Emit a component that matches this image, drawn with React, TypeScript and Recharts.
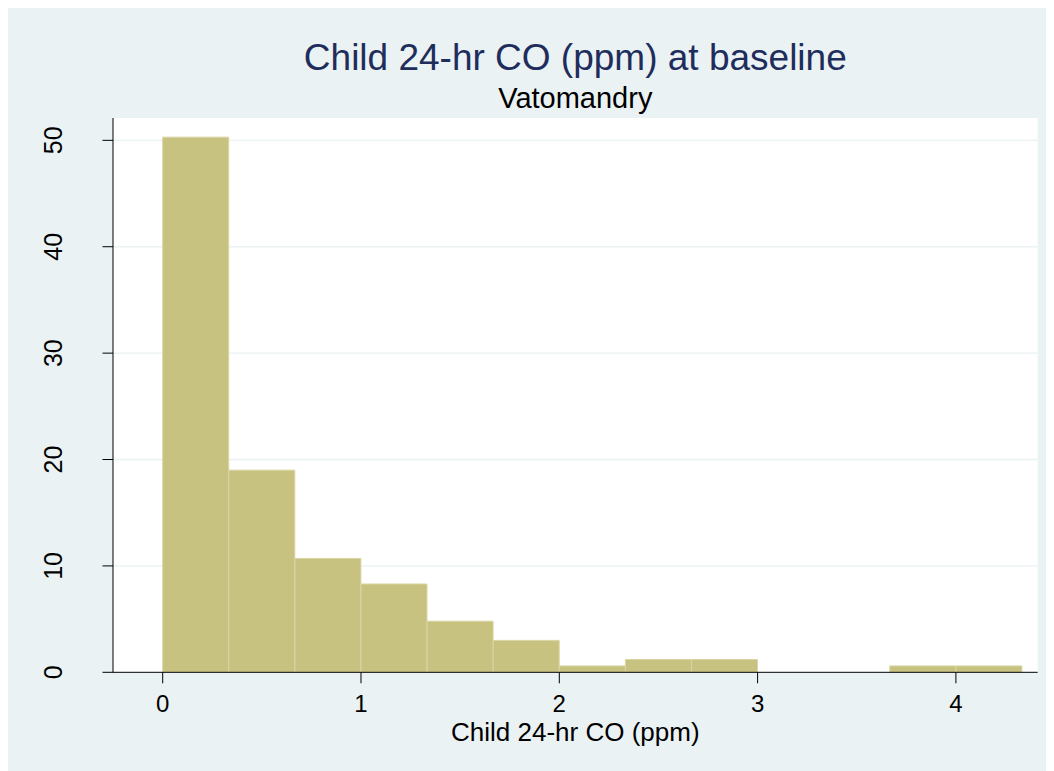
import React from 'react';
import { BarChart, Bar, XAxis, YAxis, CartesianGrid } from 'recharts';

// Histogram of child 24-hr CO exposure (percent of children per bin)
const binStarts = [0, 1 / 3, 2 / 3, 1, 4 / 3, 5 / 3, 2, 7 / 3, 8 / 3, 3, 10 / 3, 11 / 3, 4];
const binWidth = 1 / 3;
const percents = [50.3, 19.0, 10.7, 8.3, 4.8, 3.0, 0.6, 1.2, 1.2, 0, 0, 0.6, 0.6];
const xTicks = [0, 1, 2, 3, 4];
const yTicks = [0, 10, 20, 30, 40, 50];
const gridValues = [10, 20, 30, 40, 50];

const data = binStarts.map((start, i) => ({
  mid: start + binWidth / 2,
  pct: percents[i],
}));

const FONT = '"Liberation Sans", Arial, Helvetica, sans-serif';
const W = 1046;
const H = 763;

const XTick = (props: any) => {
  const { x, y, payload } = props;
  return (
    <text x={x} y={y + 27} textAnchor="middle" fontSize={24} fontFamily={FONT} fill="#000">
      {payload.value}
    </text>
  );
};

const YTick = (props: any) => {
  const { x, y, payload } = props;
  const bx = x - 38.5;
  return (
    <text
      x={bx}
      y={y}
      transform={`rotate(-90 ${bx} ${y})`}
      textAnchor="middle"
      fontSize={25}
      fontFamily={FONT}
      fill="#000"
    >
      {payload.value}
    </text>
  );
};

export default function App() {
  return (
    <div style={{ position: 'relative', width: W, height: H, background: '#EAF2F3' }}>
      <BarChart
        width={W}
        height={H}
        data={data}
        margin={{ top: 110, right: 16.3, bottom: 28.7, left: 45 }}
        barCategoryGap={0}
        barGap={0}
      >
        <CartesianGrid
          vertical={false}
          fill="#FFFFFF"
          stroke="#EAF2F3"
          strokeWidth={1.3}
          horizontalValues={gridValues}
        />
        <XAxis
          type="number"
          dataKey="mid"
          domain={[-0.2506, 4.4125]}
          allowDataOverflow
          ticks={xTicks}
          interval={0}
          height={70}
          tickSize={11}
          tick={<XTick />}
          tickLine={{ stroke: '#000', strokeWidth: 1 }}
          axisLine={{ stroke: '#000', strokeWidth: 1 }}
        />
        <YAxis
          type="number"
          domain={[0, 52.1]}
          allowDataOverflow
          ticks={yTicks}
          interval={0}
          width={60}
          tickSize={10.5}
          tick={<YTick />}
          tickLine={{ stroke: '#000', strokeWidth: 1 }}
          axisLine={{ stroke: '#000', strokeWidth: 1 }}
        />
        <Bar
          dataKey="pct"
          fill="#C8C280"
          stroke="#D9D5A3"
          strokeWidth={1}
          isAnimationActive={false}
        />
      </BarChart>
      <svg
        width={W}
        height={H}
        style={{ position: 'absolute', left: 0, top: 0, pointerEvents: 'none' }}
      >
        <text x={567.3} y={62} textAnchor="middle" fontSize={37} fontFamily={FONT} fill="#1E2D5B">
          Child 24-hr CO (ppm) at baseline
        </text>
        <text x={567.3} y={100.3} textAnchor="middle" fontSize={29} fontFamily={FONT} fill="#000">
          Vatomandry
        </text>
        <text x={567.3} y={733} textAnchor="middle" fontSize={26} fontFamily={FONT} fill="#000">
          Child 24-hr CO (ppm)
        </text>
      </svg>
    </div>
  );
}
